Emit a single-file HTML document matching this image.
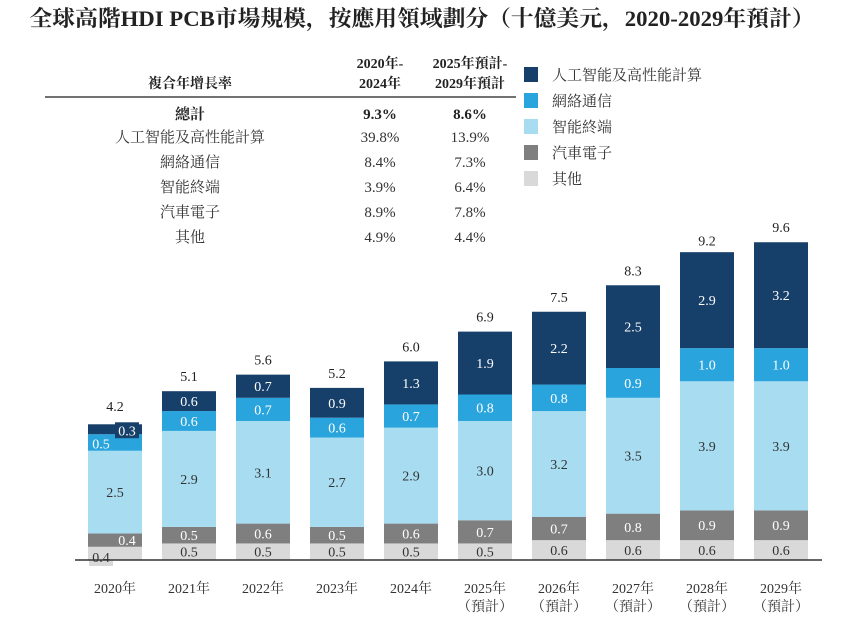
<!DOCTYPE html>
<html><head><meta charset="utf-8">
<style>
html,body{margin:0;padding:0;background:#fff;}
svg{display:block;}
text{font-family:"Liberation Serif","Noto Serif CJK SC",serif;}
</style></head>
<body>
<svg id="chart" width="844" height="622" viewBox="0 0 844 622">
<rect x="0" y="0" width="844" height="622" fill="#fff"/>
<text x="422" y="26" text-anchor="middle" font-size="22" font-weight="bold" fill="#222" textLength="785" lengthAdjust="spacingAndGlyphs">全球高階HDI PCB市場規模，按應用領域劃分（十億美元，2020-2029年預計）</text>

<g>
<text x="190" y="88" text-anchor="middle" font-size="14" font-weight="bold" fill="#222">複合年增長率</text>
<text x="380" y="68" text-anchor="middle" font-size="14" font-weight="bold" fill="#222">2020年-</text>
<text x="380" y="88" text-anchor="middle" font-size="14" font-weight="bold" fill="#222">2024年</text>
<text x="470" y="68" text-anchor="middle" font-size="14" font-weight="bold" fill="#222">2025年預計-</text>
<text x="470" y="88" text-anchor="middle" font-size="14" font-weight="bold" fill="#222">2029年預計</text>
<line x1="45" y1="97" x2="516" y2="97" stroke="#444" stroke-width="1.5"/>
<g id="tableRows"></g>
</g>

<g id="legend"></g>
<g id="bars"></g>
<line x1="75" y1="560" x2="822" y2="560" stroke="#333" stroke-width="1.5"/>
<g id="xlabels"></g>
</svg>
<script>
const years = ["2020年","2021年","2022年","2023年","2024年","2025年","2026年","2027年","2028年","2029年"];
const forecast = [false,false,false,false,false,true,true,true,true,true];
const other = [0.4,0.5,0.5,0.5,0.5,0.5,0.6,0.6,0.6,0.6];
const auto = [0.4,0.5,0.6,0.5,0.6,0.7,0.7,0.8,0.9,0.9];
const smart = [2.5,2.9,3.1,2.7,2.9,3.0,3.2,3.5,3.9,3.9];
const network = [0.5,0.6,0.7,0.6,0.7,0.8,0.8,0.9,1.0,1.0];
const ai = [0.3,0.6,0.7,0.9,1.3,1.9,2.2,2.5,2.9,3.2];
const totals = [4.2,5.1,5.6,5.2,6.0,6.9,7.5,8.3,9.2,9.6];
const seriesNames = ["人工智能及高性能計算","網絡通信","智能終端","汽車電子","其他"];
const cagr1 = ["39.8%","8.4%","3.9%","8.9%","4.9%"];
const cagr2 = ["13.9%","7.3%","6.4%","7.8%","4.4%"];
const totalCagr = ["9.3%","8.6%"];

const NS="http://www.w3.org/2000/svg";
function mk(tag, attrs, parent){const e=document.createElementNS(NS,tag);for(const k in attrs)e.setAttribute(k,attrs[k]);parent.appendChild(e);return e;}
const baseY=560, unit=33.1, x0=115, step=74, bw=54;
const xC=i=>x0+i*step;
const yH=v=>v*unit;

const tr=document.getElementById('tableRows');
let t=mk('text',{x:190,y:119,'text-anchor':'middle','font-size':15,'font-weight':'bold',fill:'#222'},tr);t.textContent='總計';


[380,470].forEach((x,j)=>{const e=mk('text',{x:x,y:119,'text-anchor':'middle','font-size':15,'font-weight':'bold',fill:'#222'},tr);e.textContent=totalCagr[j];

});
seriesNames.forEach((n,i)=>{
  const y=142+i*25;
  const a=mk('text',{x:190,y:y,'text-anchor':'middle','font-size':15,fill:'#333'},tr);a.textContent=n;
  
  
  const b=mk('text',{x:380,y:y,'text-anchor':'middle','font-size':15,fill:'#333'},tr);b.textContent=cagr1[i];
  
  
  const c=mk('text',{x:470,y:y,'text-anchor':'middle','font-size':15,fill:'#333'},tr);c.textContent=cagr2[i];
  
  
});

const colors=["#163f69","#2aa4dc","#a7dcf1","#7f7f7f","#d9d9d9"];
const lg=document.getElementById('legend');
seriesNames.forEach((n,i)=>{
  const y=67+i*26;
  const r=mk('rect',{x:524,y:y,width:14,height:15,fill:colors[i]},lg);
  
  
  const tx=mk('text',{x:552,y:y+13,'font-size':15,fill:'#333'},lg);tx.textContent=n;
  
  
});

const bars=document.getElementById('bars');
const stacks=[other,auto,smart,network,ai];
const stackColors=["#d9d9d9","#7f7f7f","#a7dcf1","#2aa4dc","#163f69"];
const textColors=["#333","#fff","#333","#fff","#fff"];
const segNames=["other","auto","smart-terminal","network","ai-hpc"];
years.forEach((yr,i)=>{
  let acc=0;
  stacks.forEach((s,k)=>{
    const h=yH(s[i]); const y=baseY-yH(acc)-h;
    const r=mk('rect',{x:xC(i)-bw/2,y:y,width:bw,height:h,fill:stackColors[k]},bars);
    
    
    let lx=xC(i), ly=y+h/2+5;
    if(i===0&&k===0){lx=xC(i)-14;ly=baseY+2;}
    if(i===0&&k===1){lx=xC(i)+12;}
    if(i===0&&k===3){lx=xC(i)-14;ly=y+h/2+6;}
    if(i===0&&k===4){lx=xC(i)+12;ly=y+h/2+6;
      const bg=mk('rect',{x:lx-12,y:y-2,width:24,height:h+6,fill:stackColors[4]},bars);
      
      }
    if(i===0&&k===0){const bg=mk('rect',{x:lx-12,y:ly-13,width:24,height:17,fill:'#d9d9d9'},bars);
      
      }
    const tx=mk('text',{x:lx,y:ly,'text-anchor':'middle','font-size':14,fill:textColors[k]},bars);
    tx.textContent=s[i].toFixed(1);
    
    
    acc+=s[i];
  });
  const tt=mk('text',{x:xC(i),y:baseY-yH(totals[i])-10,'text-anchor':'middle','font-size':14,fill:'#222'},bars);
  tt.textContent=totals[i].toFixed(1);
  
  
});

const xl=document.getElementById('xlabels');
years.forEach((yr,i)=>{
  const a=mk('text',{x:xC(i),y:593,'text-anchor':'middle','font-size':14,fill:'#333'},xl);a.textContent=yr;
  
  
  if(forecast[i]){const b=mk('text',{x:xC(i),y:611,'text-anchor':'middle','font-size':14,fill:'#333'},xl);b.textContent='（預計）';
  
  }
});
</script>
</body></html>
